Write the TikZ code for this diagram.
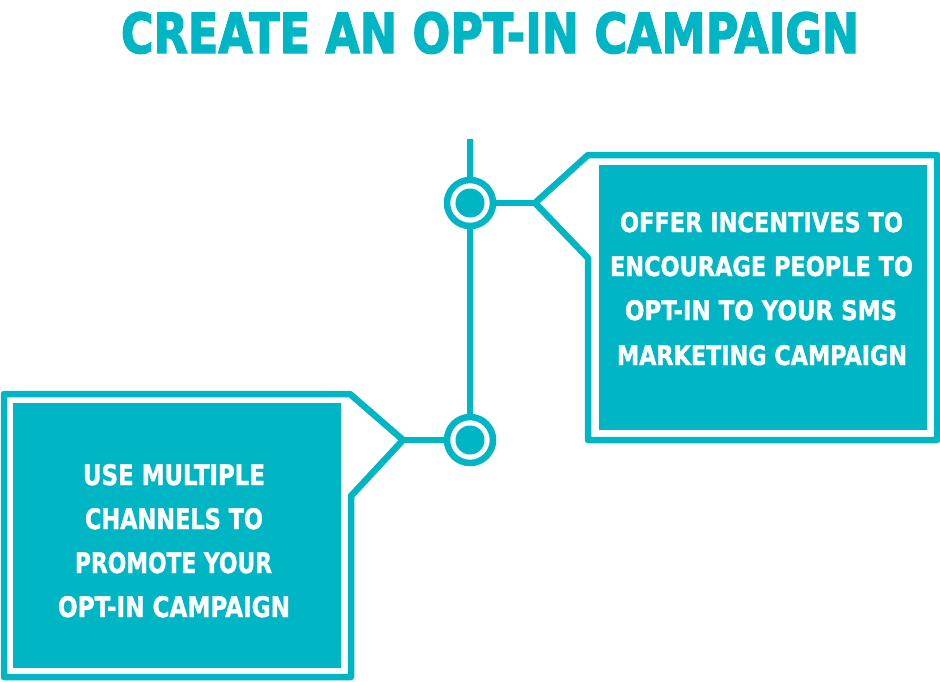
\documentclass[tikz,border=0pt]{standalone}
\usepackage{fontspec}
\usepackage{graphicx}
\setmainfont{DejaVu Sans}
\newfontfamily\heavyfont{DejaVu Sans}[UprightFont=* Bold, FakeBold=2.5]
\newfontfamily\bodyheavy{DejaVu Sans}[UprightFont=* Bold, FakeBold=1.5]
\definecolor{teal1}{RGB}{0,182,196}
\tikzset{
  lineteal/.style={draw=teal1, line width=6.5pt, line join=round},
  ringnode/.style={circle, draw=teal1, line width=6.5pt, fill=white, minimum size=46pt, inner sep=0pt},
  boxfill/.style={fill=teal1},
  txt/.style={anchor=base, inner sep=0pt, text=white, font=\bodyheavy},
  titletxt/.style={anchor=base, inner sep=0pt, text=teal1, font=\heavyfont}
}
\newcommand{\fitline}[3]{\resizebox{#1pt}{#2pt}{#3}}
\begin{document}
\begin{tikzpicture}[x=1pt,y=-1pt]
\useasboundingbox (0,0) rectangle (940,681);
% title
\node[titletxt] (title) at (490,53) {\fitline{738}{41}{CREATE AN OPT-IN CAMPAIGN}};
% timeline
\coordinate (top) at (470,139);
\node[ringnode] (c1) at (470,203) {};
\node[ringnode] (c2) at (470,440) {};
\fill[teal1] (c1.center) circle (14.5);
\fill[teal1] (c2.center) circle (14.5);
\draw[lineteal] (top) -- (c1);
\draw[lineteal] (c1) -- (c2);
% upper callout
\coordinate (tip1) at (535,203);
\draw[lineteal] (c1) -- (tip1);
\draw[lineteal] (tip1) -- (588,155) -- (937,155) -- (937,440) -- (588,440) -- (588,258) -- cycle;
\fill[boxfill] (599,165) rectangle (927,430);
\node[txt] (u1) at (761.5,232) {\fitline{283}{20}{OFFER INCENTIVES TO}};
\node[txt] (u2) at (761.5,276) {\fitline{303}{20}{ENCOURAGE PEOPLE TO}};
\node[txt] (u3) at (761,320) {\fitline{272}{20}{OPT-IN TO YOUR SMS}};
\node[txt] (u4) at (762,365) {\fitline{290}{20}{MARKETING CAMPAIGN}};
% lower callout
\coordinate (tip2) at (403,440);
\draw[lineteal] (c2) -- (tip2);
\draw[lineteal] (tip2) -- (350,394) -- (4,394) -- (4,677) -- (351,677) -- (351,496) -- cycle;
\fill[boxfill] (13,403) rectangle (341,668);
\node[txt] (l1) at (174,485) {\fitline{182}{21}{USE MULTIPLE}};
\node[txt] (l2) at (174,529) {\fitline{178}{21}{CHANNELS TO}};
\node[txt] (l3) at (173.5,573) {\fitline{197}{21}{PROMOTE YOUR}};
\node[txt] (l4) at (174,617) {\fitline{232}{21}{OPT-IN CAMPAIGN}};
\end{tikzpicture}
\end{document}
